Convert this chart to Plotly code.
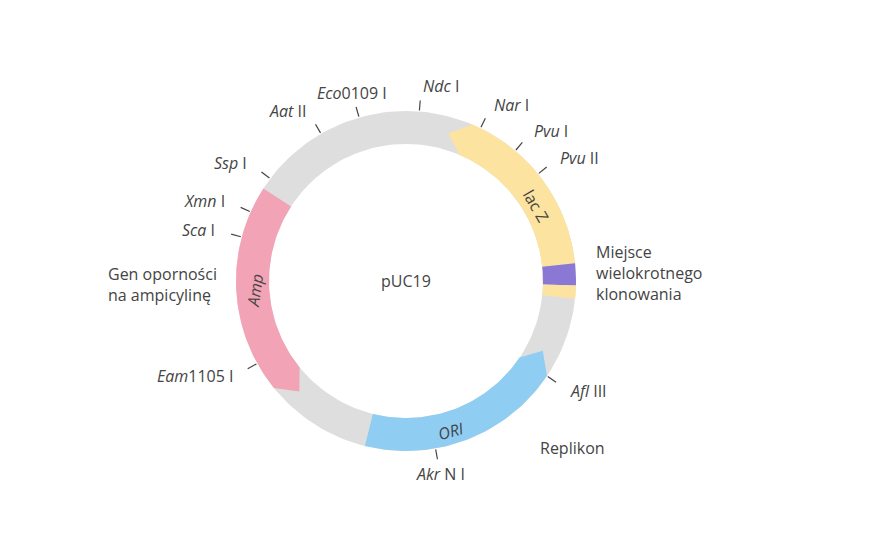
import numpy as np
import plotly.graph_objects as go

# ring segments: angle in degrees clockwise from top
seg_names = ["lacZ", "MCS", "lacZ2", "ORI", "Amp"]
seg_start = [16, 84, 91.5, 117, 224]
seg_end = [84, 91.5, 96, 194, 303]
seg_colors = ["#fde3a0", "#8a78d4", "#fde3a0", "#8fcdf2", "#f2a3b6"]
seg_arrow = [True, False, False, True, True]

site_labels = ["<i>Ndc</i> I", "<i>Nar</i> I", "<i>Pvu</i> I", "<i>Pvu</i> II", "<i>Afl</i> III",
               "<i>Akr</i> N I", "<i>Eam</i>1105 I", "<i>Sca</i> I", "<i>Xmn</i> I", "<i>Ssp</i> I",
               "<i>Aat</i> II", "<i>Eco</i>0109 I"]
site_angles = [4.5, 26, 40, 51, 124, 170, 241, 285, 294, 307, 330, 344]

R_IN, R_OUT = 137, 170
fig = go.Figure()

def arc(a0, a1, r, n=60):
    t = np.radians(np.linspace(a0, a1, n))
    return r * np.sin(t), r * np.cos(t)

# background ring
xo, yo = arc(0, 360, R_OUT, 200)
xi, yi = arc(360, 0, R_IN, 200)
fig.add_trace(go.Scatter(x=np.r_[xo, xi], y=np.r_[yo, yi], fill="toself", fillcolor="#dedede",
                         line=dict(width=0), mode="lines", hoverinfo="skip"))

for s, e, c, arr in zip(seg_start, seg_end, seg_colors, seg_arrow):
    h = 7 if arr else 0
    xo, yo = arc(s + h, e, R_OUT)
    xi, yi = arc(e, s + h, R_IN)
    tx, ty = arc(s, s, (R_IN + R_OUT) / 2, 1)
    fig.add_trace(go.Scatter(x=np.r_[xo, xi, tx], y=np.r_[yo, yi, ty], fill="toself", fillcolor=c,
                             line=dict(width=0), mode="lines", hoverinfo="skip"))

# restriction site ticks and labels
for lab, a in zip(site_labels, site_angles):
    t = np.radians(a)
    fig.add_trace(go.Scatter(x=[171 * np.sin(t), 181 * np.sin(t)], y=[171 * np.cos(t), 181 * np.cos(t)],
                             mode="lines", line=dict(color="#444", width=1.2), hoverinfo="skip"))
    sx = np.sin(t)
    anchor = "left" if sx > 0.05 else ("right" if sx < -0.35 else "center")
    if np.cos(t) < -0.9:
        anchor = "center"
    fig.add_annotation(x=196 * sx, y=196 * np.cos(t), text=lab, showarrow=False,
                       xanchor=anchor, yanchor="middle", font=dict(size=16, color="#444"))

txt = dict(showarrow=False, font=dict(size=16, color="#444"))
fig.add_annotation(x=0, y=0, text="pUC19", **txt)
fig.add_annotation(x=188, y=8, text="Miejsce<br>wielokrotnego<br>klonowania", xanchor="left", align="left", **txt)
fig.add_annotation(x=132, y=-167, text="Replikon", xanchor="left", **txt)
fig.add_annotation(x=-187, y=-3, text="Gen oporności<br>na ampicylinę", xanchor="right", align="left", **txt)
fig.add_annotation(x=130, y=75, text="lac Z", textangle=60, **txt)
fig.add_annotation(x=45, y=-150, text="<i>ORI</i>", textangle=-15, **txt)
fig.add_annotation(x=-151, y=-10, text="<i>Amp</i>", textangle=-82, **txt)

fig.update_layout(
    width=880, height=540, margin=dict(l=0, r=0, t=0, b=0),
    showlegend=False, plot_bgcolor="white", paper_bgcolor="white",
    font=dict(family="Open Sans"),
    xaxis=dict(range=[-398, 482], visible=False),
    yaxis=dict(range=[-267, 273], visible=False),
)
fig.write_html("out.html")
